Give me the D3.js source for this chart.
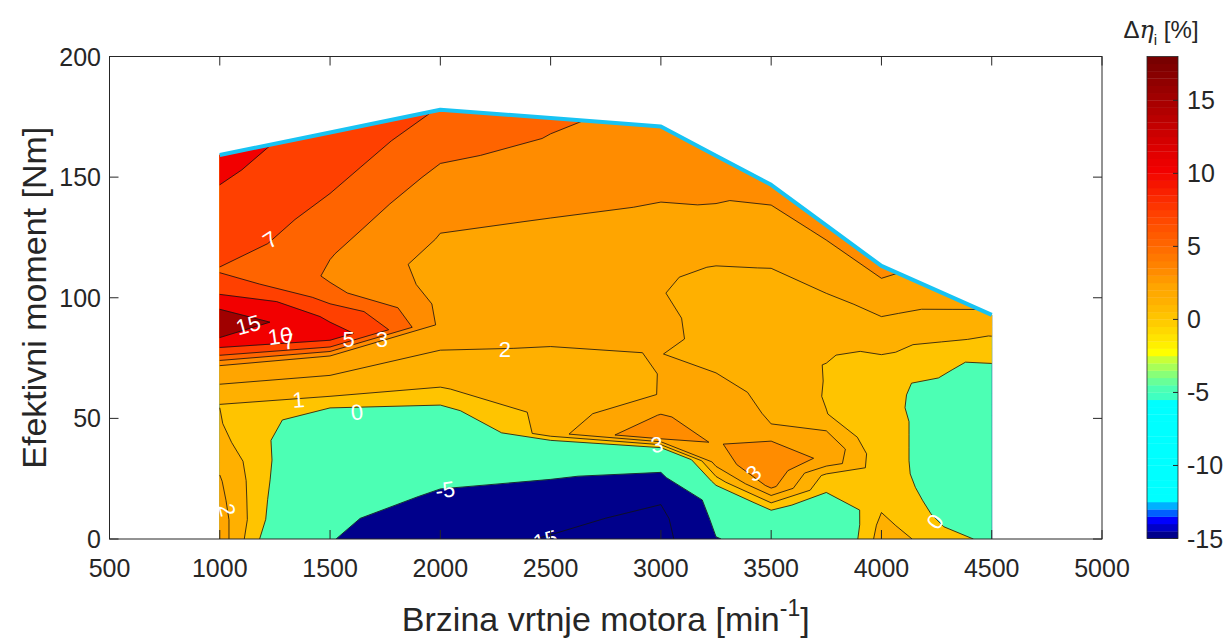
<!DOCTYPE html>
<html><head><meta charset="utf-8">
<script src="https://cdn.jsdelivr.net/npm/d3@7"></script>
<style>
body{margin:0;background:#fff;}
svg{display:block;}
text{font-family:"Liberation Sans",Arial,Helvetica,sans-serif;}
</style>
</head><body>
<svg id="c" width="1231" height="640"></svg>
<script>
// ---------------- DATA ----------------
// grid columns: engine speed [min^-1]
const speeds = [1000, 1500, 2000, 2500, 3000, 3250, 3500, 3750, 4000, 4500];
// full-load torque at each speed [Nm] (cyan boundary)
const fullLoad = [159.2, 168.5, 177.9, 174.5, 171.0, 158.9, 146.8, 130.0, 113.2, 92.9];
// grid rows: fraction of full-load torque
const loadFractions = [0,0.05,0.1,0.15,0.2,0.25,0.3,0.35,0.4,0.45,0.5,0.55,0.6,0.65,0.7,0.75,0.8,0.85,0.9,0.95,1.0];
// Δη_i [%] per speed column, from 0 load (first) to full load (last)
const dEta1000 = [2.6,2.5,2.3,2.1,1.8,1.3,1.05,0.99,1.95,2.8,10.2,20,14.8,8.3,6.8,8.0,8.5,9.0,9.6,10.5,11.5];
const dEta1500 = [-4.6,-3.5,-3.0,-2.5,-2.0,-1.5,-0.8,0.98,1.95,2.95,12,9,5.5,4.7,5.1,5.7,6.3,7.0,7.6,8.0,8.3];
const dEta2000 = [-12,-9,-5.5,-4,-3,-2,-0.3,0.95,1.6,2.1,2.6,2.5,2.3,2.3,2.9,3.3,3.9,4.6,5.4,6.2,6.9];
const dEta2500 = [-15.5,-13,-6,-4.8,-3.5,1.6,1.35,1.5,1.7,1.95,2.3,2.5,2.6,2.7,2.8,2.9,3.3,3.8,4.3,4.9,5.3];
const dEta3000 = [-18,-17,-14,-5.6,-3,4.0,3.05,2.02,2.01,2.01,2.3,2.3,2.05,2.2,2.5,2.7,2.9,3.2,3.6,4.0,4.3];
const dEta3250 = [-5.2,-3.5,-2,0.5,2.4,2.85,2.8,2.5,2.4,1.8,1.6,1.5,1.5,1.6,1.9,2.3,2.6,2.9,3.1,3.3,3.6];
const dEta3500 = [-3,-1.5,0.9,3.3,4.0,4.0,2.1,1.9,1.7,1.55,1.5,1.5,1.5,1.6,1.7,1.9,2.25,2.5,2.7,3.05,3.4];
const dEta3750 = [-2,-2,-1.5,0.05,0.7,2.7,2.9,1.9,1.02,0.95,0.97,0.96,1.15,1.4,1.6,1.8,2.1,2.35,2.6,2.98,3.3];
const dEta4000 = [1.5,1.3,0.98,0.6,0.4,0.3,0.3,0.3,0.3,0.3,0.25,0.25,0.3,0.75,1.25,1.6,1.9,2.25,2.6,2.98,3.2];
const dEta4500 = [-0.3,-1.0,-1.2,-1.0,-0.9,-0.85,-0.9,-0.9,-0.9,-0.9,-0.92,-0.85,-0.8,-0.7,-0.7,-0.5,0.25,0.65,0.95,1.45,1.85];
// contour levels
const levels = [-15, -5, 0, 1, 2, 3, 5, 7, 10, 15];
// ticks
const xTicks = [500,1000,1500,2000,2500,3000,3500,4000,4500,5000];
const yTicks = [0,50,100,150,200];
const cbTicks = [-15,-10,-5,0,5,10,15];
const cbRange = [-15, 18];
// colormap stops
const cmapStops  = [-15,-14.5,-14,-13.5,-13,-12.5,-6,-5.5,-5,-4.5,-4,-3.5,-3,-2.5,-2,-1.5,-1,-0.5,0,0.5,1,1.5,2,3,5,7,10,12,15,17.5];
const cmapColors = ["#00008b","#0000c8","#0000ff","#0060ff","#00b0ff","#00ffff","#00ffff","#40ffc0","#4cffb4","#68ff98","#88ff78","#a8ff58","#c8ff38","#ffff00","#fff000","#ffe400","#ffd800","#ffcc00","#ffc400","#ffba00","#ffb000","#ffaa00","#ffa500","#ff8c00","#ff6400","#ff4000","#f20000","#d40000","#a00000","#780000"];
// inline contour labels: text, speed, torque, rotation
const labelText  = ["7","15","10","7","5","3","2","1","0","-5","-15","3","3","0","2"];
const labelSpeed = [1229,1129,1274,1312,1584,1735,2293,1357,1622,2022,2460,2982,3420,4243,1033];
const labelTorque= [124,88.7,84.1,81.8,82.5,82.5,78.4,57.6,52.5,20.3,-0.8,39,27.2,7.2,12];
const labelAngle = [-33,-15,-8,-10,0,0,0,-5,-5,-8,-15,-10,-40,-55,75];

// ---------------- LAYOUT ----------------
const svg = d3.select("#c");
const P = {l:109.5, r:1102, t:56.5, b:539};
const x = d3.scaleLinear().domain([500,5000]).range([P.l,P.r]);
const y = d3.scaleLinear().domain([0,200]).range([P.b,P.t]);
const axisCol = "#262626";

const cmap = d3.scaleLinear().domain(cmapStops).range(cmapColors).interpolate(d3.interpolateRgb).clamp(true);

svg.append("defs").append("clipPath").attr("id","clip")
  .append("rect").attr("x",P.l).attr("y",P.t).attr("width",P.r-P.l).attr("height",P.b-P.t);

// ---------------- CONTOURS ----------------
const columns = [dEta1000,dEta1500,dEta2000,dEta2500,dEta3000,dEta3250,dEta3500,dEta3750,dEta4000,dEta4500];
const n = speeds.length, m = loadFractions.length;
const values = new Array(n*m);
for (let j=0;j<m;j++) for (let i=0;i<n;i++) values[j*n+i] = columns[i][j];

const base = -1000;
const thresholds = [base].concat(levels);
const contours = d3.contours().size([n,m]).thresholds(thresholds)(values);

function gridCoord(p){
  return [Math.max(0,Math.min(n-1,p[0]-0.5)), Math.max(0,Math.min(m-1,p[1]-0.5))];
}
function toXY(g){
  const i0 = Math.min(Math.floor(g[0]), n-2), t = g[0]-i0;
  const j0 = Math.min(Math.floor(g[1]), m-2), u = g[1]-j0;
  const rpm = speeds[i0] + t*(speeds[i0+1]-speeds[i0]);
  const tmax = fullLoad[i0] + t*(fullLoad[i0+1]-fullLoad[i0]);
  const f = loadFractions[j0] + u*(loadFractions[j0+1]-loadFractions[j0]);
  return [x(rpm), y(f*tmax)];
}

const gFill = svg.append("g").attr("clip-path","url(#clip)");
contours.forEach(c=>{
  const col = c.value===base ? cmap(levels[0]) : cmap(c.value);
  let d = "";
  c.coordinates.forEach(poly=>poly.forEach(ring=>{
    d += "M" + ring.map(p=>toXY(gridCoord(p)).map(v=>v.toFixed(2)).join(",")).join("L") + "Z";
  }));
  gFill.append("path").attr("d",d).attr("fill",col).attr("stroke",col).attr("stroke-width",0.4);
});

const gLines = svg.append("g").attr("clip-path","url(#clip)");
contours.forEach(c=>{
  if (c.value===base) return;
  let d = "";
  c.coordinates.forEach(poly=>poly.forEach(ring=>{
    const gs = ring.map(gridCoord);
    let pen = false;
    for (let k=0;k<gs.length-1;k++){
      const a=gs[k], b=gs[k+1];
      const onB = (a[0]===0&&b[0]===0)||(a[0]===n-1&&b[0]===n-1)||(a[1]===0&&b[1]===0)||(a[1]===m-1&&b[1]===m-1);
      if (onB){pen=false;continue;}
      const A=toXY(a), B=toXY(b);
      if(!pen){d+="M"+A[0].toFixed(2)+","+A[1].toFixed(2);pen=true;}
      d+="L"+B[0].toFixed(2)+","+B[1].toFixed(2);
    }
  }));
  gLines.append("path").attr("d",d).attr("fill","none").attr("stroke","#111").attr("stroke-width",0.8).attr("stroke-linejoin","round");
});

// full-load line
svg.append("path")
  .datum(speeds.map((s,i)=>[s,fullLoad[i]]))
  .attr("d", d3.line().x(d=>x(d[0])).y(d=>y(d[1])))
  .attr("fill","none").attr("stroke","#18c3f3").attr("stroke-width",4).attr("stroke-linejoin","round");

// labels
const gLab = svg.append("g").attr("clip-path","url(#clip)");
labelText.forEach((t,i)=>{
  const px = x(labelSpeed[i]), py = y(labelTorque[i]);
  gLab.append("text").attr("x",px).attr("y",py)
    .attr("transform",`rotate(${labelAngle[i]},${px},${py})`)
    .attr("text-anchor","middle").attr("dominant-baseline","central")
    .attr("font-size",22).attr("fill","#fff").text(t);
});

// ---------------- AXES ----------------
const gAx = svg.append("g");
gAx.append("rect").attr("x",P.l).attr("y",P.t).attr("width",P.r-P.l).attr("height",P.b-P.t)
  .attr("fill","none").attr("stroke",axisCol).attr("stroke-width",1);
const tl = 9;
xTicks.forEach(v=>{
  const px = x(v);
  gAx.append("line").attr("x1",px).attr("x2",px).attr("y1",P.b).attr("y2",P.b-tl).attr("stroke",axisCol);
  gAx.append("line").attr("x1",px).attr("x2",px).attr("y1",P.t).attr("y2",P.t+tl).attr("stroke",axisCol);
  gAx.append("text").attr("x",px).attr("y",577).attr("text-anchor","middle").attr("font-size",25).attr("fill",axisCol).text(v);
});
yTicks.forEach(v=>{
  const py = y(v);
  gAx.append("line").attr("x1",P.l).attr("x2",P.l+tl).attr("y1",py).attr("y2",py).attr("stroke",axisCol);
  gAx.append("line").attr("x1",P.r).attr("x2",P.r-tl).attr("y1",py).attr("y2",py).attr("stroke",axisCol);
  gAx.append("text").attr("x",101).attr("y",py+9).attr("text-anchor","end").attr("font-size",25).attr("fill",axisCol).text(v);
});
const xl = gAx.append("text").attr("x",(P.l+P.r)/2).attr("y",631).attr("text-anchor","middle").attr("font-size",34).attr("fill",axisCol);
xl.append("tspan").text("Brzina vrtnje motora [min");
xl.append("tspan").attr("font-size",23).attr("dy",-15).text("-1");
xl.append("tspan").attr("dy",15).text("]");
gAx.append("text").attr("transform",`translate(46,${(P.t+P.b)/2}) rotate(-90)`)
  .attr("text-anchor","middle").attr("font-size",34).attr("fill",axisCol).text("Efektivni moment [Nm]");

// ---------------- COLORBAR ----------------
const CB = {l:1147, r:1178, t:56.5, b:538.5};
const cy = d3.scaleLinear().domain(cbRange).range([CB.b,CB.t]);
const stripes = d3.range(cbRange[0], cbRange[1], 0.5);
const gCb = svg.append("g");
stripes.forEach(v=>{
  gCb.append("rect").attr("x",CB.l).attr("width",CB.r-CB.l)
    .attr("y",cy(v+0.5)).attr("height",cy(v)-cy(v+0.5)+0.3).attr("fill",cmap(v));
});
gCb.append("rect").attr("x",CB.l).attr("y",CB.t).attr("width",CB.r-CB.l).attr("height",CB.b-CB.t)
  .attr("fill","none").attr("stroke",axisCol).attr("stroke-width",0.8);
cbTicks.forEach(v=>{
  const py = cy(v);
  gCb.append("line").attr("x1",CB.r).attr("x2",CB.r-5).attr("y1",py).attr("y2",py).attr("stroke",axisCol);
  gCb.append("text").attr("x",1187).attr("y",py+9).attr("font-size",25).attr("fill",axisCol).text(v);
});
const ct = gCb.append("text").attr("x",1161).attr("y",38).attr("text-anchor","middle").attr("font-size",24).attr("fill",axisCol);
ct.append("tspan").text("Δ");
ct.append("tspan").attr("font-style","italic").attr("font-family","'DejaVu Serif',serif").text("η");
ct.append("tspan").attr("font-size",15).attr("dy",7).text("i");
ct.append("tspan").attr("dy",-7).text(" [%]");
</script>
</body></html>
